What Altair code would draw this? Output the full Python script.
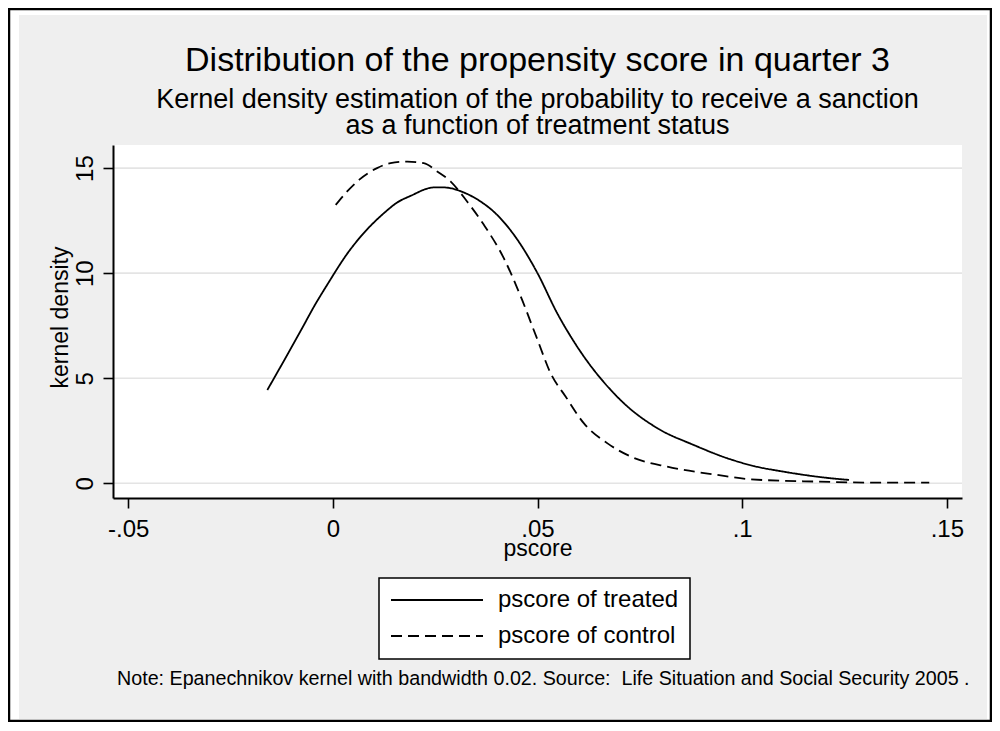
import altair as alt
import pandas as pd

# ---- data ----
treated_x = [-0.0160, -0.0116, -0.0075, -0.0046, -0.0014, 0.0039, 0.0068, 0.0125,
             0.0157, 0.0190, 0.0247, 0.0271, 0.0320, 0.0361, 0.0393, 0.0451,
             0.0500, 0.0548, 0.0597, 0.0679, 0.0711, 0.0793, 0.0882, 0.0964,
             0.1029, 0.1102, 0.1216, 0.1261]
treated_y = [4.44, 5.95, 7.38, 8.41, 9.44, 11.03, 11.74, 12.86,
             13.36, 13.68, 14.08, 14.08, 13.84, 13.41, 12.93, 11.59,
             10.00, 8.10, 6.50, 4.44, 3.81, 2.62, 1.82, 1.19,
             0.82, 0.55, 0.24, 0.16]

control_x = [0.0007, 0.0035, 0.0064, 0.0108, 0.0141, 0.0182, 0.0222, 0.0255,
             0.0288, 0.0328, 0.0369, 0.0418, 0.0459, 0.0500, 0.0532, 0.0569,
             0.0613, 0.0671, 0.0728, 0.0817, 0.0939, 0.1021, 0.1184, 0.1347,
             0.1457]
control_y = [13.25, 13.89, 14.44, 15.00, 15.24, 15.31, 15.24, 14.84,
             14.36, 13.41, 12.30, 10.70, 8.89, 6.83, 5.24, 4.12,
             2.86, 1.90, 1.27, 0.79, 0.40, 0.19, 0.08, 0.03,
             0.03]

series_names = ["pscore of treated", "pscore of control"]
x_ticks = [-0.05, 0, 0.05, 0.1, 0.15]
x_tick_labels = ["-.05", "0", ".05", ".1", ".15"]
y_ticks = [0, 5, 10, 15]

TITLE = "Distribution of the propensity score in quarter 3"
SUBTITLE_1 = "Kernel density estimation of the probability to receive a sanction"
SUBTITLE_2 = "as a function of treatment status"
NOTE = "Note: Epanechnikov kernel with bandwidth 0.02. Source:\u00a0 Life Situation and Social Security 2005 ."
X_TITLE = "pscore"
Y_TITLE = "kernel density"

FONT = "Liberation Sans"

df = pd.concat([
    pd.DataFrame({"x": treated_x, "y": treated_y, "series": series_names[0]}),
    pd.DataFrame({"x": control_x, "y": control_y, "series": series_names[1]}),
], ignore_index=True)

W, H = 849, 353
xscale = alt.Scale(domain=[-0.0537, 0.1537], nice=False, zero=False)
yscale = alt.Scale(domain=[-0.7, 16.1], nice=False, zero=False)

label_expr = " : ".join(
    f"abs(datum.value - ({v})) < 1e-9 ? '{l}'" for v, l in zip(x_ticks, x_tick_labels)
) + " : ''"

x_axis = alt.Axis(values=x_ticks, labelExpr=label_expr, title=X_TITLE, grid=False,
                  labelFlush=False, labelPadding=9, titleY=57,
                  titleBaseline="alphabetic", zindex=2)
y_axis = alt.Axis(values=y_ticks, title=Y_TITLE, grid=False, labelAngle=-90,
                  labelAlign="center", labelBaseline="alphabetic", labelPadding=11,
                  titleX=-46, titleY=172, titleAngle=270, titleAlign="center",
                  titleBaseline="alphabetic", zindex=2)

one = alt.Data(values=[{"k": 0}])

border = alt.Chart(one).mark_rect(fill="white", stroke="black", strokeWidth=2.5).encode(
    x=alt.value(-104), x2=alt.value(878), y=alt.value(-136), y2=alt.value(576))
panel = alt.Chart(one).mark_rect(fill="#efefef").encode(
    x=alt.value(-94), x2=alt.value(874), y=alt.value(-130), y2=alt.value(574))
plotbg = alt.Chart(one).mark_rect(fill="white").encode(
    x=alt.value(0), x2=alt.value("width"), y=alt.value(0), y2=alt.value("height"))

grid = alt.Chart(pd.DataFrame({"y": y_ticks})).mark_rule(
    color="#e4e4e4", strokeWidth=1.6).encode(
    y=alt.Y("y:Q", scale=yscale, axis=y_axis))

lines = alt.Chart(df).mark_line(color="black", strokeWidth=1.8, interpolate="monotone").encode(
    x=alt.X("x:Q", scale=xscale, axis=x_axis),
    y=alt.Y("y:Q", scale=yscale, axis=y_axis),
    strokeDash=alt.StrokeDash("series:N", scale=alt.Scale(
        domain=series_names, range=[[1, 0], [11, 6]]),
        legend=alt.Legend(title=None, orient="none", legendX=266, legendY=433,
                          symbolType="stroke", symbolSize=8464,
                          symbolStrokeWidth=1.8, symbolStrokeColor="black",
                          labelFontSize=24, labelFont=FONT, labelColor="black",
                          labelOffset=14, clipHeight=22, rowPadding=12,
                          padding=11, strokeColor="black", fillColor="white",
                          cornerRadius=0, labelLimit=500, symbolOffset=0,
                          zindex=2)),
)

title_t = alt.Chart(one).mark_text(fontSize=34, font=FONT, color="black",
                                   align="center", baseline="alphabetic").encode(
    x=alt.value(W / 2), y=alt.value(-74), text=alt.value(TITLE))
sub1 = alt.Chart(one).mark_text(fontSize=27, font=FONT, color="black",
                                align="center", baseline="alphabetic").encode(
    x=alt.value(W / 2), y=alt.value(-37), text=alt.value(SUBTITLE_1))
sub2 = alt.Chart(one).mark_text(fontSize=27, font=FONT, color="black",
                                align="center", baseline="alphabetic").encode(
    x=alt.value(W / 2), y=alt.value(-11.5), text=alt.value(SUBTITLE_2))
note = alt.Chart(one).mark_text(fontSize=19.7, font=FONT, color="black",
                                align="left", baseline="alphabetic").encode(
    x=alt.value(4), y=alt.value(540), text=alt.value(NOTE))

chart = alt.layer(border, panel, plotbg, grid, lines, title_t, sub1, sub2, note).properties(
    width=W, height=H,
    autosize=alt.AutoSizeParams(type="none"),
    padding={"left": 105, "top": 137, "right": 30, "bottom": 224},
).configure_view(stroke=None).configure_axis(
    domainColor="black", domainWidth=2, tickColor="black", tickWidth=1.6,
    tickSize=10, labelFontSize=24, titleFontSize=23, labelFont=FONT,
    titleFont=FONT, labelColor="black", titleColor="black",
    titleFontWeight="normal",
).configure_legend(strokeWidth=1.5)

chart.save("out.html", embed_options={"renderer": "svg", "actions": False})
